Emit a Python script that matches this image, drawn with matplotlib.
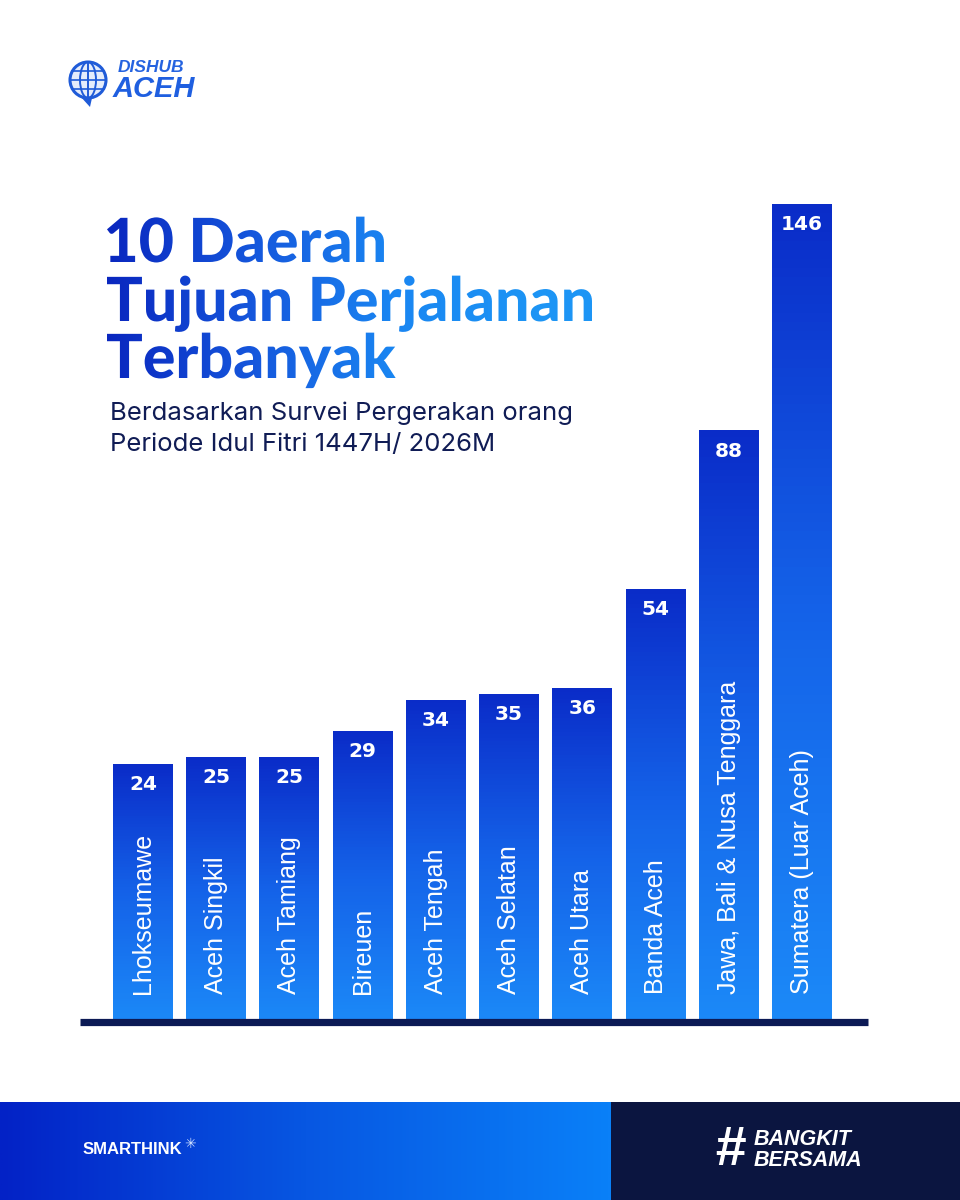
import numpy as np
import matplotlib.pyplot as plt
from matplotlib.colors import LinearSegmentedColormap
from matplotlib.patches import Rectangle, Circle, Ellipse, PathPatch, Polygon
from matplotlib.textpath import TextPath
from matplotlib.font_manager import FontProperties
from matplotlib.transforms import Affine2D

# =========================
# DATA
# =========================
daerah = ["Lhokseumawe", "Aceh Singkil", "Aceh Tamiang", "Bireuen", "Aceh Tengah",
          "Aceh Selatan", "Aceh Utara", "Banda Aceh", "Jawa, Bali & Nusa Tenggara",
          "Sumatera (Luar Aceh)"]
jumlah = [24, 25, 25, 29, 34, 35, 36, 54, 88, 146]

judul = ["10 Daerah", "Tujuan Perjalanan", "Terbanyak"]
subjudul = ["Berdasarkan Survei Pergerakan orang", "Periode Idul Fitri 1447H/ 2026M"]

# =========================
# STYLE
# =========================
NAVY = "#0c1a55"
bar_cmap = LinearSegmentedColormap.from_list("bar", ["#1b88f7", "#1462e8", "#0a2cc8"])
title_cmap = LinearSegmentedColormap.from_list("title", ["#0a27bf", "#1556dc", "#1a86f2", "#1d95f5"])
footer_cmap = LinearSegmentedColormap.from_list("footer", ["#0322c6", "#0757e2", "#0a80f8"])

fig = plt.figure(figsize=(9.6, 12), dpi=100)
fig.patch.set_facecolor("white")

# background layer in pixel coordinates
bg = fig.add_axes([0, 0, 1, 1])
bg.set_axis_off()

# --- logo ---
bg.add_patch(Circle((88, 80), 18, fc="#e4ecfb", ec="#1f5bd8", lw=2.2, zorder=2))
bg.add_patch(Ellipse((88, 80), 16, 36, fc="none", ec="#1f5bd8", lw=1.4, zorder=3))
bg.plot([88, 88], [62, 98], color="#1f5bd8", lw=1.4, zorder=3)
for yy in [71, 80, 89]:
    half = np.sqrt(18 ** 2 - (yy - 80) ** 2)
    bg.plot([88 - half, 88 + half], [yy, yy], color="#1f5bd8", lw=1.2, zorder=3)
bg.add_patch(Polygon([[80, 96], [92, 98], [90, 107]], closed=True, fc="#1f5bd8", zorder=3))
bg.text(118, 68, "DISHUB", fontsize=12.5, fontstyle="italic", fontweight="bold",
        color="#2563e0", va="center", ha="left", family="Liberation Sans")
bg.text(113, 89, "ACEH", fontsize=21, fontstyle="italic", fontweight="bold",
        color="#1f5fe0", va="center", ha="left", family="Liberation Sans")

# --- title with horizontal gradient ---
fp = FontProperties(family="Lato", weight="black")
paths = [TextPath((0, 0), t, size=100, prop=fp) for t in judul]
ext = [p.get_extents() for p in paths]
s = 485 / ext[1].width
grad_x = np.linspace(100, 620, 300)
grad = title_cmap(np.clip((grad_x - 107) / 430, 0, 1))[np.newaxis, :, :3]
for p, e, base in zip(paths, ext, [262, 321, 378]):
    tr = Affine2D().translate(-e.x0, 0).scale(s, -s).translate(107, base) + bg.transData
    patch = PathPatch(p, transform=tr, fc="none", ec="none")
    bg.add_patch(patch)
    im = bg.imshow(grad, extent=(100, 620, base + 25, base - 60), aspect="auto", zorder=4)
    im.set_clip_path(patch)

for txt, y in zip(subjudul, [420, 451]):
    bg.text(110, y, txt, fontsize=18.5, color="#101c55", family="Inter",
            ha="left", va="baseline")

# --- footer ---
fgrad = footer_cmap(np.linspace(0, 1, 300))[np.newaxis, :, :3]
bg.imshow(fgrad, extent=(0, 611, 1200, 1102), aspect="auto", zorder=1)
bg.add_patch(Rectangle((611, 1102), 349, 98, fc="#0b1540", ec="none", zorder=1))
bg.text(83, 1150, "SMARTHINK", fontsize=12, fontweight="bold", color="white",
        va="center", ha="left", family="Liberation Sans", zorder=5)
bg.text(184, 1144, "\u2733", fontsize=10, color="#cfe0ff", va="center", ha="left",
        family="DejaVu Sans", zorder=5)
bg.text(714, 1151, "#", fontsize=40, fontweight="bold", fontstyle="italic", color="white",
        va="center", ha="left", family="Liberation Sans", zorder=5)
bg.text(754, 1150, "BANGKIT\nBERSAMA", fontsize=15.5, fontweight="bold", fontstyle="italic",
        color="white", va="center", ha="left", family="Liberation Sans", zorder=5,
        linespacing=0.95)

bg.set_xlim(0, 960)
bg.set_ylim(1200, 0)

# =========================
# BAR CHART
# =========================
p_exp = 0.64
fwd = lambda v: np.sign(v) * np.abs(v) ** p_exp
inv = lambda t: np.sign(t) * np.abs(t) ** (1 / p_exp)

ax = fig.add_axes([80 / 960, (1200 - 1021.5) / 1200, 788 / 960, (1021.5 - 200) / 1200])
ax.set_facecolor("none")
ax.set_yscale("function", functions=(fwd, inv))

x = np.arange(len(jumlah))
vals = np.array(jumlah, dtype=float)
width = 0.82
n = 90
tops = fwd(vals)
for k in range(n):
    lo = inv(tops * k / n)
    hi = inv(tops * (k + 1) / n)
    ax.bar(x, hi - lo, width, bottom=lo, color=bar_cmap(k / (n - 1)),
           linewidth=0, antialiased=False)

for i, (lab, v) in enumerate(zip(daerah, jumlah)):
    ax.annotate(str(v), (i, v), xytext=(0, -8), textcoords="offset points",
                ha="center", va="top", color="white", fontsize=14.5, fontweight="bold",
                family="DejaVu Sans")
    ax.annotate(lab, (i, 0), xytext=(0, 20), textcoords="offset points",
                ha="center", va="bottom", rotation=90, color="white", fontsize=18,
                family="Liberation Sans")

ax.set_xlim(-0.86, 9.90)
ax.set_ylim(0, 147.2)
for side in ["top", "left", "right"]:
    ax.spines[side].set_visible(False)
ax.spines["bottom"].set_color(NAVY)
ax.spines["bottom"].set_linewidth(5.2)
ax.spines["bottom"].set_capstyle("butt")
ax.set_xticks([])
ax.set_yticks([])

plt.savefig("out.png", dpi=100)
